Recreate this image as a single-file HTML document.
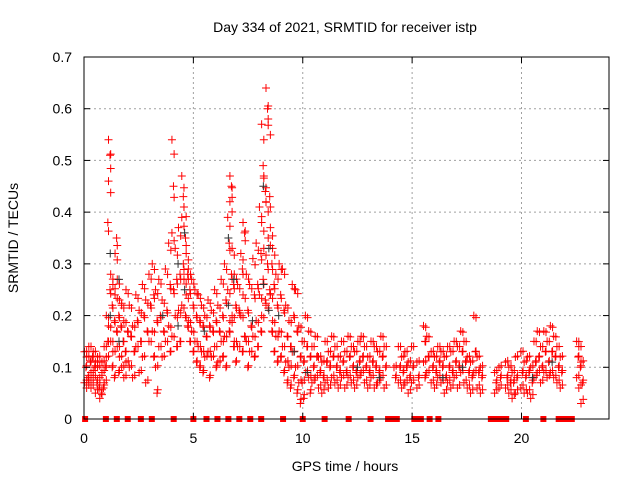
<!DOCTYPE html>
<html><head><meta charset="utf-8"><style>
body{margin:0;background:#fff;}
svg{font-family:"Liberation Sans",sans-serif;}
</style></head><body>
<svg id="chart" width="640" height="480">
<text x="345" y="32" font-size="14" text-anchor="middle">Day 334 of 2021, SRMTID for receiver istp</text>
<text x="345" y="471" font-size="14" text-anchor="middle">GPS time / hours</text>
<text transform="translate(18,238) rotate(-90)" font-size="14" text-anchor="middle">SRMTID / TECUs</text>
<g id="grid"></g><g id="marks"></g><g id="axes"></g>
</svg>
<script>
const xTicks=[0,5,10,15,20];
const yTicks=[0,0.1,0.2,0.3,0.4,0.5,0.6,0.7];
const yTickLabels=["0","0.1","0.2","0.3","0.4","0.5","0.6","0.7"];
// red series: "time:values"
const redSeries="0.05:0.13,0.1,0.07;0.15:0.12,0.08,0.06;0.25:0.14,0.11,0.07;0.35:0.09,0.12,0.06;0.45:0.13,0.1,0.08;0.55:0.11,0.07,0.05;0.65:0.1,0.06,0.12;0.75:0.08,0.05,0.04;0.85:0.09,0.06,0.11;0.95:0.14,0.1,0.07;1.05:0.2,0.15,0.12,0.38;1.15:0.54,0.51,0.46,0.25,0.18;1.25:0.28,0.22,0.15,0.1;1.35:0.26,0.19,0.13,0.08;1.45:0.32,0.35,0.24,0.17;1.55:0.27,0.2,0.14,0.09;1.65:0.23,0.18,0.12;1.75:0.22,0.15,0.1;1.85:0.19,0.13,0.08;1.95:0.25,0.17,0.11;2.1:0.22,0.16,0.1;2.25:0.18,0.13,0.08;2.4:0.24,0.19,0.14;2.55:0.21,0.15,0.09;2.7:0.26,0.2,0.12;2.85:0.23,0.17,0.07;3.0:0.28,0.22,0.15;3.15:0.3,0.24,0.17,0.12;3.3:0.25,0.19,0.1,0.05;3.45:0.27,0.2,0.14;3.6:0.23,0.17,0.12;3.75:0.29,0.21,0.15;3.9:0.34,0.26,0.18,0.13;4.05:0.54,0.45,0.36,0.25,0.16;4.2:0.33,0.27,0.2,0.14;4.35:0.37,0.28,0.21,0.15;4.5:0.47,0.43,0.39,0.3,0.22;4.6:0.41,0.35,0.27,0.2;4.7:0.32,0.28,0.24,0.18;4.8:0.29,0.25,0.19,0.15;4.95:0.27,0.22,0.17,0.13;5.1:0.25,0.2,0.15,0.11;5.25:0.24,0.19,0.14,0.1;5.4:0.22,0.18,0.13,0.09;5.55:0.2,0.16,0.12;5.7:0.23,0.18,0.13,0.08;5.85:0.21,0.17,0.12;6.0:0.25,0.19,0.14,0.1;6.15:0.22,0.17,0.11;6.3:0.27,0.2,0.15,0.12;6.45:0.3,0.23,0.16,0.1;6.6:0.39,0.34,0.25,0.17;6.7:0.47,0.45,0.42,0.28,0.19;6.8:0.33,0.26,0.2,0.14;6.9:0.28,0.22,0.15,0.11;7.05:0.26,0.21,0.14;7.2:0.32,0.29,0.2,0.13;7.3:0.38,0.36,0.24,0.16;7.45:0.28,0.21,0.15,0.1;7.6:0.26,0.18,0.13;7.75:0.31,0.24,0.16,0.12;7.9:0.34,0.26,0.19,0.14;8.05:0.41,0.32,0.24,0.17;8.15:0.57,0.49,0.38,0.27,0.2;8.25:0.47,0.44,0.33,0.23;8.35:0.64,0.6,0.42,0.3,0.22;8.45:0.58,0.43,0.35,0.25;8.55:0.37,0.3,0.24,0.17;8.65:0.33,0.26,0.19,0.13;8.8:0.28,0.22,0.16,0.11;8.95:0.3,0.24,0.17,0.12;9.1:0.29,0.21,0.14,0.09;9.25:0.22,0.16,0.11,0.07;9.4:0.19,0.14,0.1,0.06;9.55:0.26,0.2,0.13,0.08;9.7:0.25,0.17,0.1,0.05;9.85:0.18,0.12,0.07,0.03;10.0:0.15,0.11,0.07,0.04;10.15:0.2,0.14,0.09;10.3:0.17,0.12,0.08,0.05;10.45:0.14,0.1,0.07;10.6:0.16,0.12,0.08;10.75:0.12,0.09,0.06;10.9:0.11,0.08,0.05;11.05:0.15,0.11,0.07;11.2:0.13,0.1,0.06;11.35:0.16,0.12,0.08;11.5:0.14,0.1,0.07;11.65:0.12,0.09,0.06;11.8:0.15,0.11,0.08;11.95:0.13,0.09,0.06;12.1:0.16,0.12,0.08;12.25:0.14,0.1,0.07;12.4:0.13,0.09,0.06;12.55:0.15,0.11,0.08;12.7:0.16,0.12,0.09;12.85:0.14,0.1,0.07;13.0:0.12,0.09,0.06;13.15:0.15,0.11,0.08;13.3:0.14,0.1,0.06;13.45:0.13,0.09,0.07;13.6:0.16,0.12,0.08;13.75:0.14,0.1,0.06;14.4:0.14,0.1,0.07;14.55:0.12,0.09,0.06;14.7:0.13,0.1,0.07;14.85:0.11,0.08,0.05;15.0:0.14,0.1,0.07;15.55:0.18,0.15,0.11,0.08;15.7:0.16,0.12,0.09;15.9:0.13,0.1,0.07;16.05:0.12,0.09,0.06;16.2:0.14,0.11,0.08;16.35:0.13,0.1,0.07;16.5:0.12,0.08,0.05;16.65:0.14,0.1,0.07;16.8:0.13,0.09,0.06;16.95:0.15,0.11,0.08;17.1:0.14,0.1,0.06;17.25:0.17,0.13,0.09;17.4:0.15,0.11,0.07;17.55:0.12,0.09,0.06;17.7:0.11,0.08,0.05;17.85:0.2,0.13,0.09;18.0:0.12,0.09,0.06;18.15:0.1,0.08,0.05;20.0:0.13,0.09,0.06;20.15:0.11,0.08,0.05;20.3:0.12,0.09,0.05;20.45:0.1,0.07,0.04;20.6:0.15,0.11,0.08;20.75:0.17,0.12,0.09;20.9:0.14,0.1,0.07;21.05:0.17,0.13,0.09;21.2:0.15,0.11,0.08;21.35:0.18,0.13,0.09;21.5:0.16,0.12,0.08;21.65:0.14,0.1,0.07;21.8:0.12,0.09,0.06;22.55:0.15,0.12,0.08;22.65:0.14,0.1,0.06;22.75:0.11,0.07,0.03;19.3:0.11,0.08,0.06;19.45:0.1,0.07,0.05;19.6:0.09,0.07,0.04;19.75:0.12,0.08,0.05;18.8:0.09,0.07,0.05;19.0:0.1,0.08,0.06;14.2:0.1,0.08;15.25:0.11,0.08,0.06";
const blackSeries="1.2:0.32,0.2;1.6:0.27,0.15;3.6:0.2;4.3:0.3,0.18;4.6:0.36,0.25;5.5:0.17;6.6:0.35,0.22;6.85:0.27;7.7:0.19;8.2:0.45,0.26;8.45:0.33,0.21;8.9:0.2;9.6:0.13;10.2:0.09;12.5:0.1;13.5:0.08;16.4:0.08;17.3:0.1;20.5:0.08;21.4:0.11";
const zeroHours=[0.05,1.0,1.5,2.0,2.6,3.1,4.1,5.0,5.6,6.1,6.6,7.1,7.6,8.1,9.1,10.0,11.0,12.1,13.1,13.9,14.0,14.1,14.2,14.3,15.1,15.2,15.3,15.4,15.8,16.2,18.6,18.7,18.8,18.9,19.0,19.1,19.3,20.2,21.0,21.7,21.8,21.9,22.0,22.1,22.3];
const X0=84,X1=609,Y0=419,Y1=57,XMAX=24,YMAX=0.7;
const xs=h=>X0+(X1-X0)*h/XMAX, ys=v=>Y0-(Y0-Y1)*v/YMAX;
const NS="http://www.w3.org/2000/svg";
function mk(tag,attrs,parent){const e=document.createElementNS(NS,tag);for(const k in attrs)e.setAttribute(k,attrs[k]);parent.appendChild(e);return e;}
const grid=document.getElementById('grid'),axes=document.getElementById('axes'),marks=document.getElementById('marks');
xTicks.forEach(t=>{const x=xs(t);
 if(t>0){const g=mk('line',{x1:x,x2:x,y1:Y0,y2:Y1,stroke:'#a0a0a0','stroke-dasharray':'2,3','stroke-width':1},grid);
 
 }
 const l=mk('text',{x:x,y:Y0+24,'font-size':14,'text-anchor':'middle'},axes);l.textContent=t;
 
 
 mk('line',{x1:x,x2:x,y1:Y0,y2:Y0-6,stroke:'#000'},axes);mk('line',{x1:x,x2:x,y1:Y1,y2:Y1+6,stroke:'#000'},axes);});
yTicks.forEach((t,i)=>{const y=ys(t);
 if(t>0&&t<YMAX){const g=mk('line',{x1:X0,x2:X1,y1:y,y2:y,stroke:'#a0a0a0','stroke-dasharray':'2,3','stroke-width':1},grid);
 
 }
 const l=mk('text',{x:X0-12,y:y+5,'font-size':14,'text-anchor':'end'},axes);l.textContent=yTickLabels[i];
 
 
 mk('line',{x1:X0,x2:X0+6,y1:y,y2:y,stroke:'#000'},axes);mk('line',{x1:X1,x2:X1-6,y1:y,y2:y,stroke:'#000'},axes);});
const frame=mk('rect',{x:X0,y:Y1,width:X1-X0,height:Y0-Y1,fill:'none',stroke:'#000','stroke-width':1},axes);


function plus(h,v,color){const x=xs(h),y=ys(v);
 const p=mk('path',{d:`M${x-4},${y}h8M${x},${y-4}v8`,stroke:color,'stroke-width':1},marks);
 
 }
function parse(s){return s.split(';').map(e=>{const [t,vs]=e.split(':');return [parseFloat(t),vs.split(',').map(Number)];});}
const red=parse(redSeries),blk=parse(blackSeries);
red.forEach(([t,vs])=>vs.forEach((v,i)=>{plus(t+(i%2?0.04:-0.03),v,'#ff0000');plus(t+0.07,v*0.93+0.01,'#ff0000');}));
blk.forEach(([t,vs])=>vs.forEach(v=>plus(t,v,'#303030')));
zeroHours.forEach(h=>{const r=mk('rect',{x:xs(h)-3,y:Y0-3,width:6,height:6,fill:'#ff0000'},marks);
 
 });
</script>
</body></html>
